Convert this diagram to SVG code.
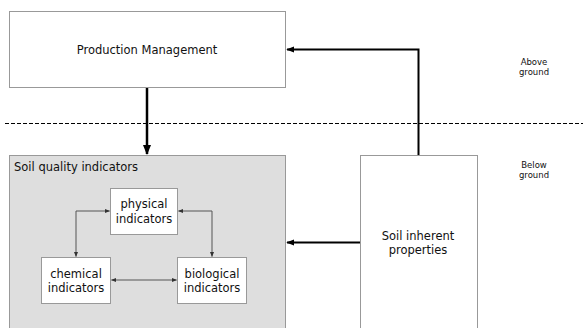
<svg xmlns="http://www.w3.org/2000/svg" width="583" height="328" viewBox="0 0 583 328">
<defs>
<style>
.box{fill:#fff;stroke:#999;stroke-width:1}
.grey{fill:#dedede;stroke:#999;stroke-width:1}
.t{font-family:"DejaVu Sans",Verdana,sans-serif;fill:#111}
.big{font-size:11.5px}
.sm{font-size:8.5px}
.thick{fill:none;stroke:#000;stroke-width:2.5}
.med{fill:none;stroke:#000;stroke-width:2}
.thin{fill:none;stroke:#555;stroke-width:1}
</style>
<marker id="ah" viewBox="0 0 10 10" refX="9" refY="5" markerWidth="4" markerHeight="4" orient="auto-start-reverse" markerUnits="strokeWidth"><path d="M0,1 L10,5 L0,9 z" fill="#000"/></marker>
<marker id="ahs" viewBox="0 0 10 10" refX="9" refY="5" markerWidth="5" markerHeight="5" orient="auto-start-reverse" markerUnits="strokeWidth"><path d="M0,1 L10,5 L0,9 z" fill="#333"/></marker>
</defs>
<line x1="5" y1="123.5" x2="583" y2="123.5" stroke="#000" stroke-width="1" stroke-dasharray="4,2"/>
<g id="production-management">
<rect class="box" x="9.5" y="11.5" width="276" height="76"/>
<text class="t big" x="147" y="54" text-anchor="middle">Production Management</text>
</g>
<g id="soil-quality-indicators">
<rect class="grey" x="9.5" y="155.5" width="276" height="180"/>
<text class="t big" x="14" y="171">Soil quality indicators</text>
</g>
<g id="physical-indicators">
<rect class="box" x="110.5" y="188.5" width="67" height="46"/>
<text class="t big" x="144" y="208" text-anchor="middle">physical</text>
<text class="t big" x="144" y="223" text-anchor="middle">indicators</text>
</g>
<g id="chemical-indicators">
<rect class="box" x="41.5" y="257.5" width="69" height="46"/>
<text class="t big" x="76" y="278" text-anchor="middle">chemical</text>
<text class="t big" x="76" y="292" text-anchor="middle">indicators</text>
</g>
<g id="biological-indicators">
<rect class="box" x="177.5" y="257.5" width="69" height="46"/>
<text class="t big" x="212" y="278" text-anchor="middle">biological</text>
<text class="t big" x="212" y="292" text-anchor="middle">indicators</text>
</g>
<g id="soil-inherent-properties">
<rect class="box" x="360.5" y="155.5" width="117" height="180"/>
<text class="t big" x="418" y="240" text-anchor="middle">Soil inherent</text>
<text class="t big" x="418" y="254" text-anchor="middle">properties</text>
</g>
<g id="labels">
<text class="t sm" x="534" y="65" text-anchor="middle">Above</text>
<text class="t sm" x="534" y="75" text-anchor="middle">ground</text>
<text class="t sm" x="534" y="168" text-anchor="middle">Below</text>
<text class="t sm" x="534" y="178" text-anchor="middle">ground</text>
</g>
<g id="connectors">
<path class="thick" d="M147,88 V154" marker-end="url(#ah)"/>
<path class="med" d="M418.5,155 V49.5 H287" marker-end="url(#ah)"/>
<path class="med" d="M360,242.5 H287" marker-end="url(#ah)"/>
<path class="thin" d="M76,256.5 V211 H109.5" marker-start="url(#ahs)" marker-end="url(#ahs)"/>
<path class="thin" d="M178.5,211 H212 V256.5" marker-start="url(#ahs)" marker-end="url(#ahs)"/>
<path class="thin" d="M111.5,280 H176.5" marker-start="url(#ahs)" marker-end="url(#ahs)"/>
</g>
</svg>
